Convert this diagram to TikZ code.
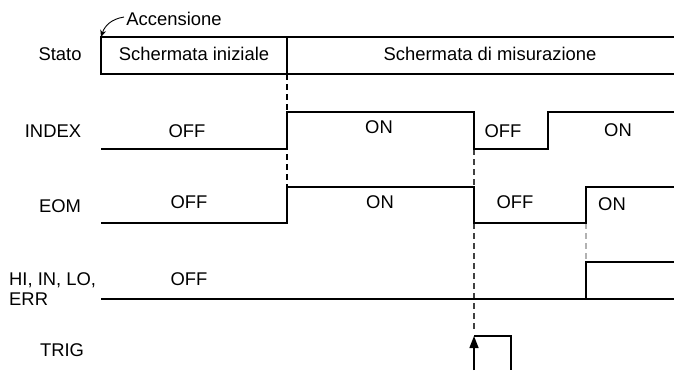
\documentclass[tikz,border=0pt]{standalone}
\usepackage{fontspec}
\setmainfont{Liberation Sans}
\usetikzlibrary{arrows.meta}
\begin{document}
\begin{tikzpicture}[x=1pt,y=-1pt,
  every node/.style={font=\fontsize{18.4}{20}\selectfont, inner sep=0pt, anchor=base},
  sig/.style={line width=1.4pt, line join=miter},
  guide/.style={line width=1.3pt, dash pattern=on 6pt off 4pt},
]
\useasboundingbox (0,0) rectangle (674,370);
% Stato box
\coordinate (boxtl) at (101,37);
\draw[sig] (674,37) -- (boxtl) -- (101,74) -- (674,74);
\draw[sig] (287,37) -- (287,74);

% guide lines
\draw[guide] (287,74) -- (287,187);
\draw[guide, black!75] (474,149) -- (474,187);
\draw[guide, black!75] (474,223) -- (474,332);
\draw[guide, black!30] (586,223) -- (586,262);

% INDEX
\draw[sig] (101,149) -| (287,112) -| (474,149) -| (548,112) -- (674,112);
% EOM
\draw[sig] (101,223) -| (287,187) -| (474,223) -| (586,187) -- (674,187);
% HI, IN, LO, ERR
\draw[sig] (101,299) -- (674,299);
\draw[sig] (586,299) |- (674,262);
% TRIG
\draw[sig, -{Triangle[length=12pt,width=9pt]}] (474,370) -- (474,336);
\draw[sig] (474,336) -| (511,370);

% labels
\node (acc) at (174,25) {Accensione};
\draw[line width=0.9pt, -{Stealth[length=7pt,width=6pt]}] (124,17) .. controls (112,19) and (105,25) .. (boxtl);
\node (stato) at (60,60) {Stato};
\node (s1) at (194,60) {Schermata iniziale};
\node (s2) at (490,60) {Schermata di misurazione};

\node (index) at (53,137) {INDEX};
\node (ioff1) at (187,137) {OFF};
\node (ion1) at (379,133) {ON};
\node (ioff2) at (503,137) {OFF};
\node (ion2) at (618,136) {ON};

\node (eom) at (60,212) {EOM};
\node (eoff1) at (189,208) {OFF};
\node (eon1) at (380,208) {ON};
\node (eoff2) at (515,208) {OFF};
\node (eon2) at (612,210) {ON};

\node[anchor=base west] (hi) at (9,285) {HI, IN, LO,};
\node[anchor=base west] (err) at (9,305) {ERR};
\node (hoff) at (189,285) {OFF};

\node (trig) at (62,356) {TRIG};
\end{tikzpicture}
\end{document}
